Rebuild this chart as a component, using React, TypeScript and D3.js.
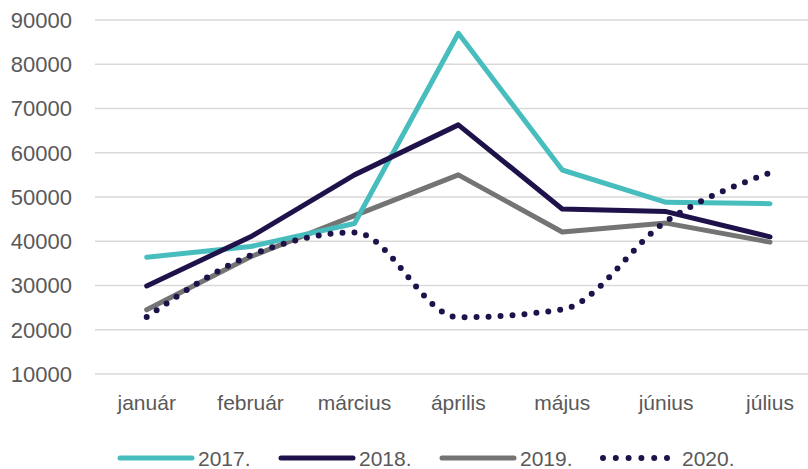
import React, { useEffect, useRef } from 'react';
import * as d3 from 'd3';

const months = ['január', 'február', 'március', 'április', 'május', 'június', 'július'];
const years = ['2017.', '2018.', '2019.', '2020.'];
const values2017 = [36400, 38800, 44000, 87000, 56100, 48800, 48500];
const values2018 = [29900, 41000, 55000, 66300, 47300, 46700, 41000];
const values2019 = [24500, 36500, 45800, 55000, 42100, 44100, 39800];
const values2020 = [22900, 36800, 42000, 22800, 24600, 44500, 55500];
const yTicks = [10000, 20000, 30000, 40000, 50000, 60000, 70000, 80000, 90000];

const colors = ['#47bdbe', '#1f124a', '#747474', '#1f124a'];
const textColor = '#595959';
const font = '"Liberation Sans", Arial, sans-serif';

function LineChart() {
  const svgRef = useRef(null);

  useEffect(() => {
    const svg = d3.select(svgRef.current);
    svg.selectAll('*').remove();

    const x = d3.scalePoint().domain(months).range([146.7, 770]);
    const y = d3.scaleLinear().domain([10000, 90000]).range([374, 20]);

    // gridlines
    svg
      .append('g')
      .selectAll('line')
      .data(yTicks)
      .join('line')
      .attr('x1', 95)
      .attr('x2', 808)
      .attr('y1', (d) => y(d))
      .attr('y2', (d) => y(d))
      .attr('stroke', '#d9d9d9')
      .attr('stroke-width', 1.5);

    // y labels
    svg
      .append('g')
      .selectAll('text')
      .data(yTicks)
      .join('text')
      .attr('x', 72)
      .attr('y', (d) => y(d) + 7.8)
      .attr('text-anchor', 'end')
      .attr('fill', textColor)
      .attr('font-family', font)
      .attr('font-size', 22)
      .text((d) => d);

    // x labels
    svg
      .append('g')
      .selectAll('text')
      .data(months)
      .join('text')
      .attr('x', (d) => x(d))
      .attr('y', 410)
      .attr('text-anchor', 'middle')
      .attr('fill', textColor)
      .attr('font-family', font)
      .attr('font-size', 21)
      .text((d) => d);

    const series = [values2017, values2018, values2019, values2020];
    const straight = d3
      .line()
      .x((d, i) => x(months[i]))
      .y((d) => y(d));
    const smooth = d3
      .line()
      .x((d, i) => x(months[i]))
      .y((d) => y(d))
      .curve(d3.curveMonotoneX);

    // draw 2019 first, then 2017, 2018, 2020 on top
    [2, 0, 1, 3].forEach((k) => {
      const dotted = k === 3;
      svg
        .append('path')
        .attr('d', dotted ? smooth(series[k]) : straight(series[k]))
        .attr('fill', 'none')
        .attr('stroke', colors[k])
        .attr('stroke-width', dotted ? 6 : 5)
        .attr('stroke-linecap', 'round')
        .attr('stroke-linejoin', 'round')
        .attr('stroke-dasharray', dotted ? '0 12' : null);
    });

    // legend
    const legend = svg.append('g');
    years.forEach((name, k) => {
      const lx = 120 + k * 161;
      const dotted = k === 3;
      legend
        .append('line')
        .attr('x1', lx)
        .attr('x2', lx + (dotted ? 68 : 72))
        .attr('y1', 458)
        .attr('y2', 458)
        .attr('stroke', colors[k])
        .attr('stroke-width', dotted ? 6 : 5)
        .attr('stroke-linecap', 'round')
        .attr('stroke-dasharray', dotted ? '0 12.8' : null);
      legend
        .append('text')
        .attr('x', lx + (dotted ? 79 : 78))
        .attr('y', 466)
        .attr('fill', textColor)
        .attr('font-family', font)
        .attr('font-size', 21)
        .text(name);
    });
  }, []);

  return (
    <svg
      width={808}
      height={469}
      ref={svgRef}
      xmlns="http://www.w3.org/2000/svg"
      style={{ position: 'absolute', left: 0, top: 0, background: '#fff' }}
    />
  );
}

function App() {
  return (
    <div className="App">
      <LineChart />
    </div>
  );
}

export default App;
